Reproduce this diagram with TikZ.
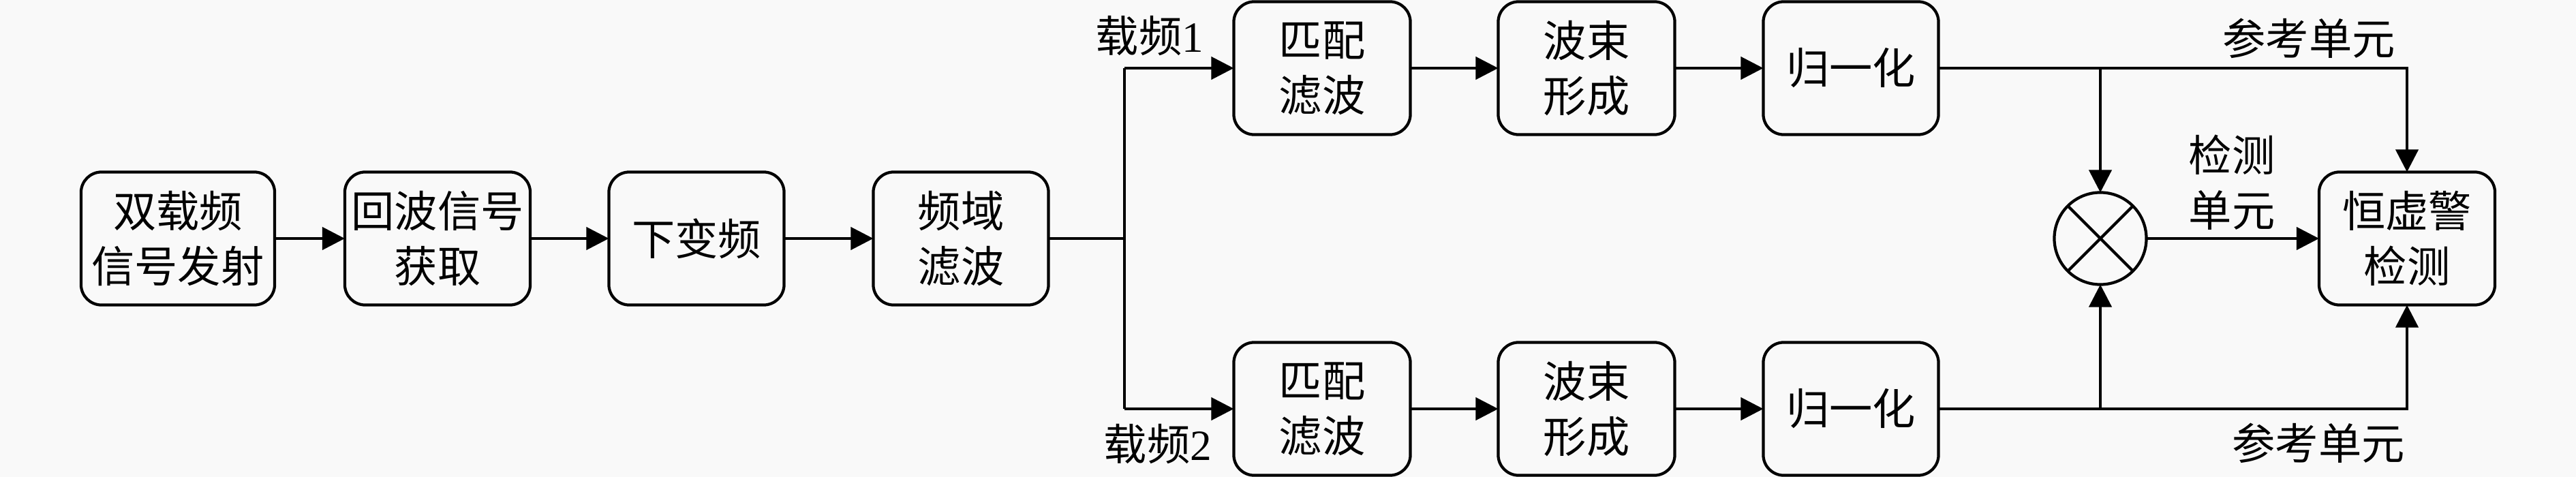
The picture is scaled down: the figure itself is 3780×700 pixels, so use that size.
\documentclass[tikz,border=0pt]{standalone}
\usepackage{fontspec}
\setmainfont{Liberation Serif}
\newfontfamily\cjk{Noto Sans CJK SC}
\usetikzlibrary{arrows.meta}
\definecolor{bgc}{RGB}{249,249,249}
\begin{document}
\begin{tikzpicture}[x=0.01cm,y=-0.01cm,
  every node/.style={inner sep=0pt,outer sep=0pt},
  txt/.style={font=\cjk\fontsize{18}{23}\selectfont,align=center},
  blk/.style={txt,draw,line width=1.2pt,rounded corners=0.3cm,minimum height=1.95cm},
  conn/.style={line width=1.2pt},
  arr/.style={conn,-{Triangle[length=0.33cm,width=0.33cm]}}]
\fill[bgc] (0,0) rectangle (3780,700);
\useasboundingbox (0,0) rectangle (3780,700);
% first chain
\node[blk,minimum width=2.84cm] (b1) at (261,350) {双载频\\信号发射};
\node[blk,minimum width=2.72cm] (b2) at (642,350) {回波信号\\获取};
\node[blk,minimum width=2.57cm] (b3) at (1022,350) {下变频};
\node[blk,minimum width=2.57cm] (b4) at (1410,350) {频域\\滤波};
% top row
\node[blk,minimum width=2.59cm] (m1) at (1940,100) {匹配\\滤波};
\node[blk,minimum width=2.59cm] (f1) at (2328,100) {波束\\形成};
\node[blk,minimum width=2.57cm] (n1) at (2716,100) {归一化};
% bottom row
\node[blk,minimum width=2.59cm] (m2) at (1940,600) {匹配\\滤波};
\node[blk,minimum width=2.59cm] (f2) at (2328,600) {波束\\形成};
\node[blk,minimum width=2.57cm] (n2) at (2716,600) {归一化};
% multiplier and CFAR
\node[draw,circle,line width=1.2pt,minimum size=1.35cm] (mx) at (3082,350) {};
\draw[conn] (mx.north west) -- (mx.south east) (mx.north east) -- (mx.south west);
\node[blk,minimum width=2.58cm] (cf) at (3532,350) {恒虚警\\检测};
% coordinates
\coordinate (s) at (1650,350);
\coordinate (s1) at (1650,100);
\coordinate (s2) at (1650,600);
\coordinate (j1) at (3082,100);
\coordinate (j2) at (3082,600);
\coordinate (c1) at (3532,100);
\coordinate (c2) at (3532,600);
% connectors
\draw[arr] (b1) -- (b2);
\draw[arr] (b2) -- (b3);
\draw[arr] (b3) -- (b4);
\draw[conn] (b4.east) -- (s);
\draw[conn] (s1) -- (s2);
\draw[arr] (s1) -- (m1.west);
\draw[arr] (s2) -- (m2.west);
\draw[arr] (m1) -- (f1);
\draw[arr] (f1) -- (n1);
\draw[arr] (m2) -- (f2);
\draw[arr] (f2) -- (n2);
\draw[arr] (n1.east) -- (c1) -- (cf.north);
\draw[arr] (j1) -- (mx.north);
\draw[arr] (n2.east) -- (c2) -- (cf.south);
\draw[arr] (j2) -- (mx.south);
\draw[arr] (mx.east) -- (cf.west);
% labels
\node[txt] (l1) at (1687,53) {载频\rmfamily 1};
\node[txt] (l2) at (1699,652) {载频\rmfamily 2};
\node[txt] (r1) at (3388,56) {参考单元};
\node[txt] (r2) at (3402,650) {参考单元};
\node[txt] (d1) at (3275,268) {检测\\单元};
\end{tikzpicture}
\end{document}
